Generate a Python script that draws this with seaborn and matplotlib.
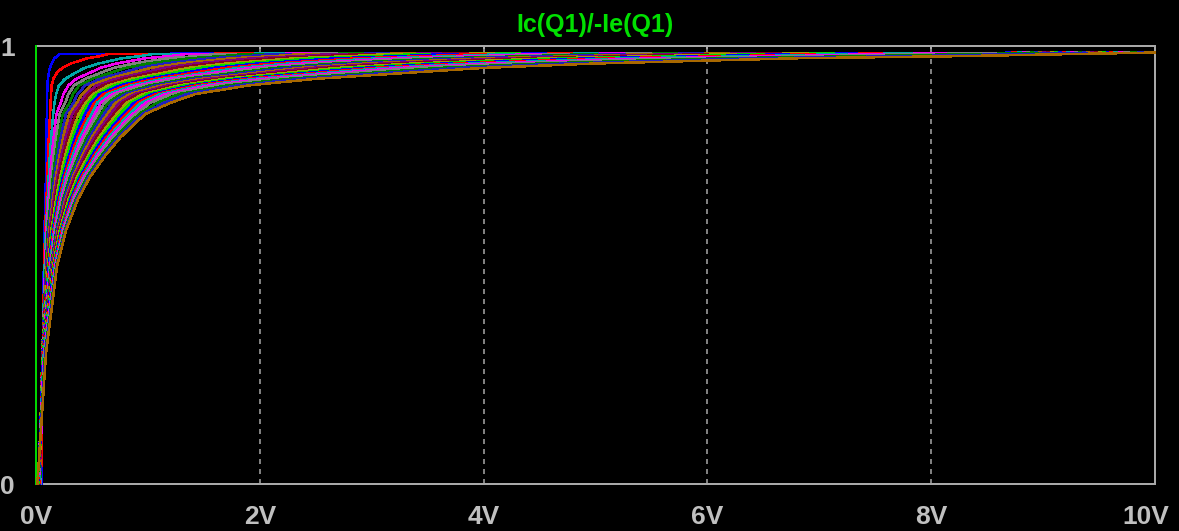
import matplotlib
matplotlib.use("Agg")
import matplotlib.pyplot as plt
import matplotlib.transforms as mtransforms
import pandas as pd
import seaborn as sns

# ---------------- data ----------------
title = "Ic(Q1)/-Ie(Q1)"
x_ticks = [0, 2, 4, 6, 8, 10]
x_tick_labels = ["0V", "2V", "4V", "6V", "8V", "10V"]
y_ticks = [0, 1]
y_tick_labels = ["0", "1"]

# step 0: vertical trace at 0 V
step0_x = [0.0, 0.0]
step0_y = [0.0, 1.0]

# steps 1..32: x position (V) at which each trace reaches the given level
levels = [0.0, 0.3, 0.5, 0.58, 0.65, 0.70, 0.75, 0.79, 0.82, 0.845,
          0.87, 0.89, 0.91, 0.925, 0.94, 0.95, 0.96, 0.972, 0.977, 0.982]
x_at_000 = [0.05, 0.045, 0.04, 0.04, 0.038, 0.037, 0.036, 0.035, 0.034, 0.033, 0.032, 0.031,
            0.030, 0.029, 0.028, 0.027, 0.026, 0.025, 0.024, 0.023, 0.022, 0.021, 0.020, 0.020,
            0.019, 0.018, 0.017, 0.016, 0.015, 0.014, 0.013, 0.012]
x_at_030 = [0.06, 0.06, 0.058, 0.058, 0.056, 0.056, 0.055, 0.055, 0.055, 0.055, 0.055, 0.055,
            0.056, 0.056, 0.057, 0.057, 0.058, 0.058, 0.058, 0.059, 0.060, 0.061, 0.062, 0.063,
            0.065, 0.068, 0.070, 0.073, 0.076, 0.081, 0.085, 0.090]
x_at_050 = [0.070, 0.074, 0.078, 0.082, 0.085, 0.089, 0.093, 0.097, 0.101, 0.105, 0.109, 0.113,
            0.116, 0.120, 0.124, 0.128, 0.132, 0.136, 0.140, 0.144, 0.147, 0.151, 0.155, 0.159,
            0.163, 0.167, 0.171, 0.174, 0.178, 0.182, 0.186, 0.190]
x_at_058 = [0.075, 0.081, 0.088, 0.094, 0.100, 0.106, 0.113, 0.119, 0.125, 0.132, 0.138, 0.144,
            0.150, 0.157, 0.163, 0.169, 0.176, 0.182, 0.188, 0.195, 0.201, 0.207, 0.213, 0.220,
            0.226, 0.232, 0.239, 0.245, 0.251, 0.258, 0.264, 0.270]
x_at_065 = [0.085, 0.094, 0.104, 0.113, 0.122, 0.132, 0.141, 0.150, 0.160, 0.169, 0.179, 0.188,
            0.197, 0.207, 0.216, 0.225, 0.235, 0.244, 0.253, 0.263, 0.272, 0.281, 0.291, 0.300,
            0.309, 0.319, 0.328, 0.337, 0.347, 0.356, 0.366, 0.375]
x_at_070 = [0.088, 0.101, 0.113, 0.126, 0.139, 0.151, 0.164, 0.177, 0.189, 0.202, 0.215, 0.227,
            0.240, 0.252, 0.265, 0.278, 0.290, 0.303, 0.316, 0.328, 0.341, 0.354, 0.366, 0.379,
            0.392, 0.404, 0.417, 0.429, 0.442, 0.455, 0.467, 0.480]
x_at_075 = [0.090, 0.107, 0.124, 0.141, 0.158, 0.176, 0.193, 0.210, 0.227, 0.244, 0.261, 0.278,
            0.295, 0.312, 0.329, 0.347, 0.364, 0.381, 0.398, 0.415, 0.432, 0.449, 0.466, 0.483,
            0.500, 0.518, 0.535, 0.552, 0.569, 0.586, 0.603, 0.620]
x_at_079 = [0.093, 0.114, 0.135, 0.157, 0.178, 0.199, 0.220, 0.241, 0.263, 0.284, 0.305, 0.326,
            0.347, 0.369, 0.390, 0.411, 0.432, 0.453, 0.475, 0.496, 0.517, 0.538, 0.559, 0.581,
            0.602, 0.623, 0.644, 0.665, 0.687, 0.708, 0.729, 0.750]
x_at_082 = [0.095, 0.120, 0.145, 0.170, 0.195, 0.220, 0.245, 0.270, 0.295, 0.320, 0.345, 0.370,
            0.395, 0.420, 0.445, 0.470, 0.495, 0.520, 0.545, 0.570, 0.595, 0.620, 0.645, 0.670,
            0.695, 0.720, 0.745, 0.770, 0.795, 0.820, 0.845, 0.870]
x_at_0845 = [0.097, 0.126, 0.154, 0.183, 0.211, 0.240, 0.268, 0.297, 0.325, 0.354, 0.382, 0.411,
             0.439, 0.468, 0.496, 0.525, 0.553, 0.582, 0.610, 0.639, 0.667, 0.696, 0.724, 0.753,
             0.781, 0.810, 0.838, 0.867, 0.895, 0.924, 0.952, 0.980]
x_at_087 = [0.099, 0.130, 0.165, 0.22, 0.26, 0.30, 0.335, 0.365, 0.395, 0.42, 0.445, 0.47,
            0.495, 0.52, 0.545, 0.576, 0.609, 0.643, 0.676, 0.709, 0.743, 0.776, 0.810, 0.843,
            0.876, 0.906, 0.938, 0.977, 1.02, 1.08, 1.14, 1.20]
x_at_089 = [0.100, 0.135, 0.180, 0.245, 0.29, 0.33, 0.37, 0.41, 0.445, 0.475, 0.51, 0.54,
            0.57, 0.605, 0.64, 0.68, 0.719, 0.760, 0.798, 0.836, 0.879, 0.917, 0.956, 0.994,
            1.035, 1.068, 1.109, 1.154, 1.206, 1.275, 1.345, 1.420]
x_at_091 = [0.102, 0.140, 0.205, 0.29, 0.34, 0.385, 0.44, 0.49, 0.54, 0.594, 0.647, 0.70,
            0.753, 0.805, 0.858, 0.911, 0.964, 1.02, 1.07, 1.12, 1.18, 1.23, 1.28, 1.33,
            1.39, 1.43, 1.49, 1.55, 1.62, 1.71, 1.80, 1.90]
x_at_0925 = [0.106, 0.155, 0.26, 0.36, 0.44, 0.50, 0.573, 0.642, 0.712, 0.780, 0.852, 0.92,
             0.992, 1.059, 1.131, 1.199, 1.270, 1.34, 1.406, 1.476, 1.548, 1.618, 1.684, 1.754,
             1.826, 1.886, 1.958, 2.038, 2.128, 2.254, 2.368, 2.50]
x_at_094 = [0.115, 0.19, 0.36, 0.49, 0.59, 0.68, 0.78, 0.87, 0.97, 1.06, 1.16, 1.25,
            1.35, 1.44, 1.54, 1.63, 1.73, 1.82, 1.91, 2.01, 2.10, 2.20, 2.29, 2.39,
            2.48, 2.57, 2.66, 2.77, 2.89, 3.07, 3.22, 3.40]
x_at_095 = [0.124, 0.235, 0.435, 0.576, 0.695, 0.80, 0.919, 1.024, 1.139, 1.248, 1.363, 1.471,
            1.586, 1.695, 1.81, 1.919, 2.034, 2.143, 2.248, 2.363, 2.471, 2.586, 2.695, 2.81,
            2.919, 3.02, 3.129, 3.258, 3.40, 3.61, 3.786, 4.00]
x_at_096 = [0.14, 0.31, 0.56, 0.72, 0.87, 1.00, 1.15, 1.28, 1.42, 1.56, 1.70, 1.84,
            1.98, 2.12, 2.26, 2.40, 2.54, 2.68, 2.81, 2.95, 3.09, 3.23, 3.37, 3.51,
            3.65, 3.77, 3.91, 4.07, 4.25, 4.51, 4.73, 5.00]
x_at_0972 = [0.165, 0.46, 0.77, 0.98, 1.18, 1.37, 1.56, 1.75, 1.94, 2.13, 2.32, 2.50,
             2.69, 2.88, 3.07, 3.26, 3.45, 3.64, 3.83, 4.02, 4.21, 4.40, 4.59, 4.78,
             4.97, 5.13, 5.31, 5.53, 5.78, 6.14, 6.44, 6.80]
x_at_0977 = [0.192, 0.572, 0.935, 1.198, 1.44, 1.671, 1.902, 2.134, 2.365, 2.596, 2.827, 3.055,
             3.286, 3.517, 3.749, 3.98, 4.211, 4.442, 4.668, 4.899, 5.13, 5.368, 5.599, 5.83,
             6.062, 6.275, 6.484, 6.751, 7.054, 7.45, 7.862, 8.30]
x_at_0982 = [0.21, 0.65, 1.05, 1.35, 1.62, 1.88, 2.14, 2.40, 2.66, 2.92, 3.18, 3.44,
             3.70, 3.96, 4.22, 4.48, 4.74, 5.00, 5.26, 5.52, 5.78, 6.04, 6.30, 6.56,
             6.82, 7.05, 7.30, 7.60, 7.94, 8.43, 8.85, 9.34]
end_x = 10.0
end_level = 0.985

# LTspice step colours (cycle of 12)
step_colors = ["#00d800", "#0000ff", "#ff0000", "#00a8a8", "#f000f0", "#808080",
               "#008000", "#2020c0", "#a86800", "#800080", "#880020", "#a0a000"]

# ---------------- build long table ----------------
x_tables = [x_at_000, x_at_030, x_at_050, x_at_058, x_at_065, x_at_070, x_at_075,
            x_at_079, x_at_082, x_at_0845, x_at_087, x_at_089, x_at_091, x_at_0925,
            x_at_094, x_at_095, x_at_096, x_at_0972, x_at_0977, x_at_0982]
rows = []
for xv, yv in zip(step0_x, step0_y):
    rows.append(("s00", xv, yv))
n_steps = len(x_at_000)
for i in range(n_steps):
    name = f"s{i + 1:02d}"
    for lev, tab in zip(levels, x_tables):
        rows.append((name, tab[i], lev))
    rows.append((name, end_x, end_level))
df = pd.DataFrame(rows, columns=["step", "x", "y"])
hue_order = [f"s{i:02d}" for i in range(n_steps + 1)]
palette = {h: step_colors[k % len(step_colors)] for k, h in enumerate(hue_order)}

# ---------------- figure ----------------
sns.set_style("dark")
plt.rcParams["font.family"] = ["Liberation Sans", "DejaVu Sans"]
DPI = 100
fig = plt.figure(figsize=(1179 / DPI, 531 / DPI), dpi=DPI, facecolor="black")
L, R, T, B = 36, 1155, 46, 484
ax = fig.add_axes([L / 1179, 1 - B / 531, (R - L) / 1179, (B - T) / 531])
ax.set_facecolor("black")

frame_col = "#a8a8a8"
grid_col = "#808080"
px = 72 / DPI  # points per pixel

ax.set_xlim(0, 10)
ax.set_ylim(0, 1)
ax.set_xticks(x_ticks)
ax.set_xticklabels(x_tick_labels)
ax.set_yticks(y_ticks)
ax.set_yticklabels(y_tick_labels)

ax.grid(False)
for xv in x_ticks[1:-1]:
    ax.axvline(xv, color=grid_col, lw=2 * px, ls=(0, (2.5, 2.5)), zorder=0.5)

sns.lineplot(data=df, x="x", y="y", hue="step", hue_order=hue_order, palette=palette,
             estimator=None, sort=False, legend=False, linewidth=1.5 * px, ax=ax)
for ln in ax.get_lines():
    if ln.get_linestyle() == "-":
        ln.set_antialiased(False)
        ln.set_clip_on(False)
        ln.set_zorder(3)
ax.set_xlabel("")
ax.set_ylabel("")

for sp in ax.spines.values():
    sp.set_color(frame_col)
    sp.set_linewidth(2 * px)
    sp.set_visible(True)

ax.tick_params(axis="x", direction="inout", length=18 * px, width=2 * px, color=frame_col,
               labelcolor="#c0c0c0", labelsize=19, pad=12 * px)
ax.tick_params(axis="y", direction="out", length=14 * px, width=2 * px, color=frame_col,
               labelcolor="#c0c0c0", labelsize=19, pad=7 * px)
for lab in ax.get_xticklabels() + ax.get_yticklabels():
    lab.set_fontweight("bold")
last = ax.get_xticklabels()[-1]
last.set_transform(last.get_transform() + mtransforms.ScaledTranslation(-9 / DPI, 0, fig.dpi_scale_trans))

top = ax.secondary_xaxis("top")
top.set_xticks(x_ticks)
top.set_xticklabels([])
top.tick_params(direction="in", length=6 * px, width=2 * px, color=frame_col)
top.spines["top"].set_color(frame_col)
top.spines["top"].set_linewidth(2 * px)

fig.text((L + R) / 2 / 1179, 1 - 25 / 531, title, color="#00e000", fontsize=18,
         fontweight="bold", ha="center", va="center")

fig.savefig("out.png", dpi=DPI, facecolor="black")
